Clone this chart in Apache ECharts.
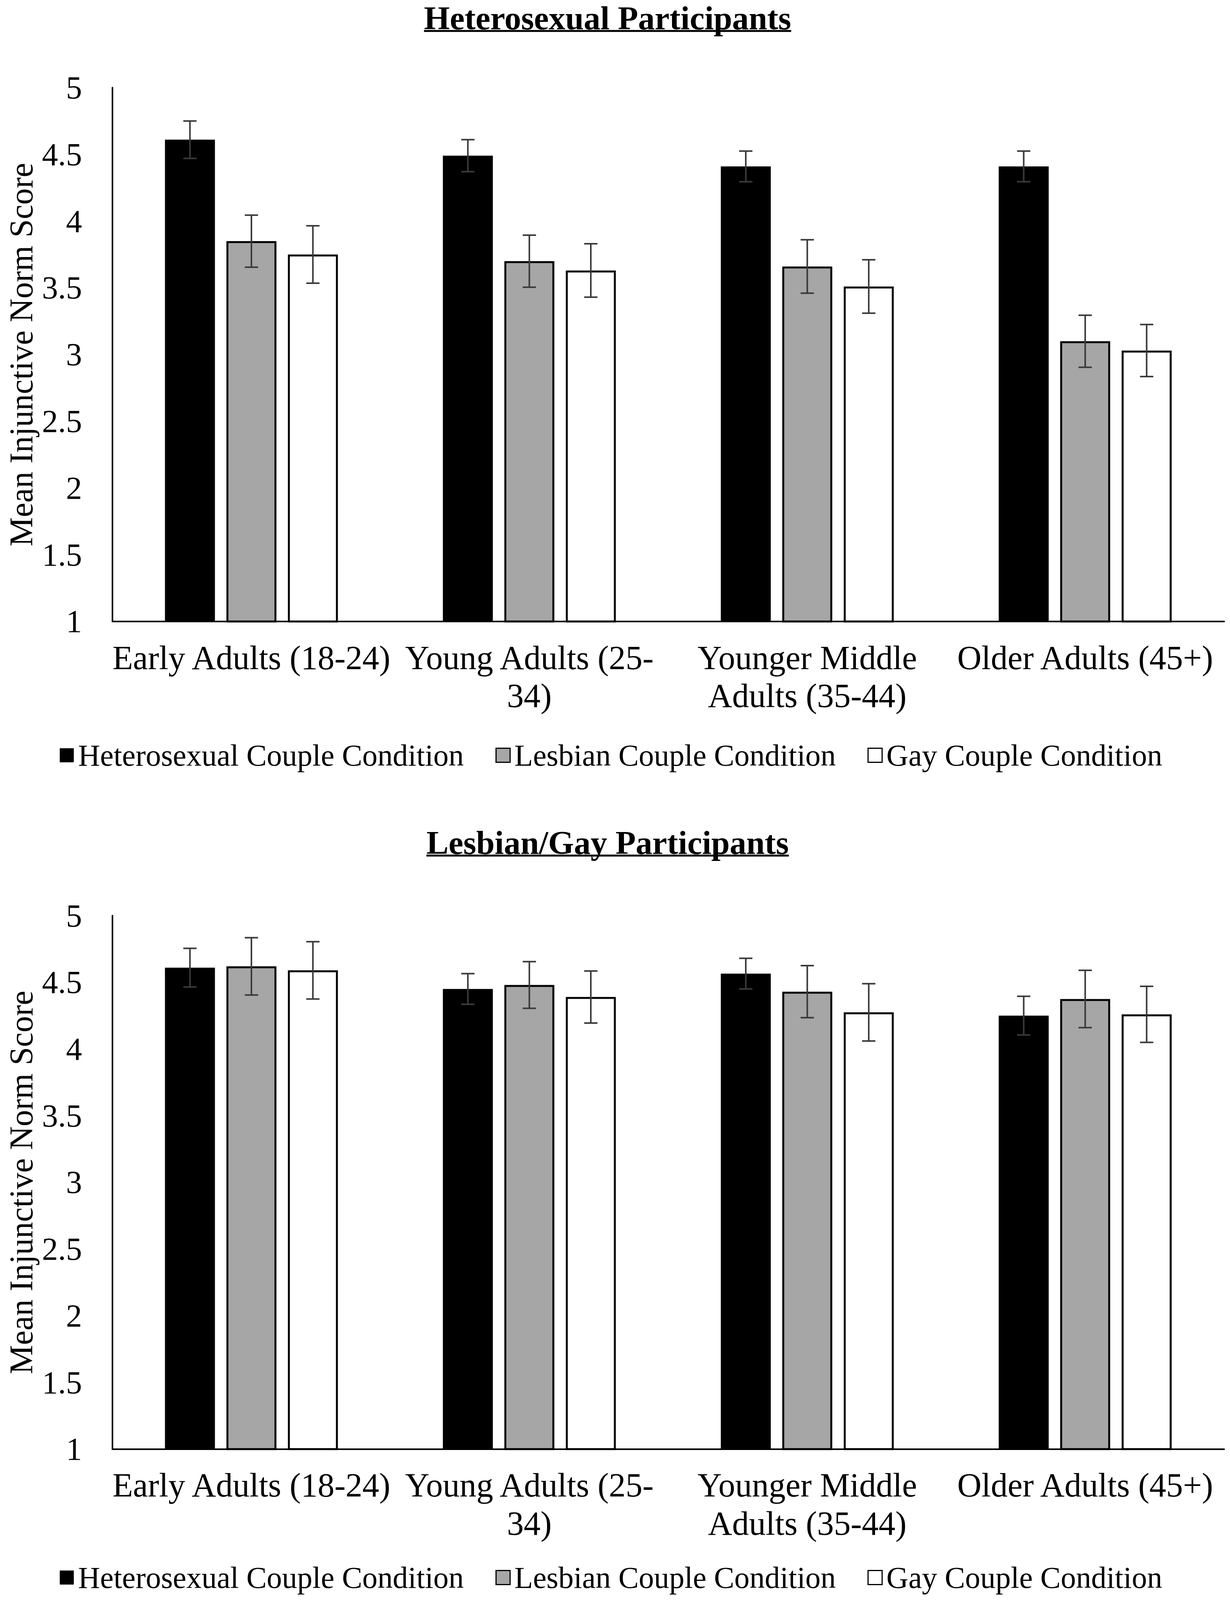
<!DOCTYPE html>
<html>
<head>
<meta charset="utf-8">
<script src="https://cdn.jsdelivr.net/npm/echarts@6/dist/echarts.min.js"></script>
<style>
html,body{margin:0;padding:0;background:#fff;overflow:hidden;}
#c{width:3150px;height:4199px;}
</style>
</head>
<body>
<div id="c"></div>
<script>
// ---------- data ----------
const categories = ['Early Adults (18-24)', 'Young Adults (25-34)', 'Younger Middle Adults (35-44)', 'Older Adults (45+)'];
const tickLabels = ['Early Adults (18-24)', 'Young Adults (25-\n34)', 'Younger Middle\nAdults (35-44)', 'Older Adults (45+)'];
const seriesNames = ['Heterosexual Couple Condition', 'Lesbian Couple Condition', 'Gay Couple Condition'];
const panelTitles = ['Heterosexual Participants', 'Lesbian/Gay Participants'];
const yAxisName = 'Mean Injunctive Norm Score';
const yMin = 1, yMax = 5, yStep = 0.5;

// Heterosexual participants
const hetPartHetCouple = [4.61, 4.49, 4.41, 4.41];
const hetPartLesCouple = [3.85, 3.70, 3.66, 3.10];
const hetPartGayCouple = [3.75, 3.63, 3.51, 3.03];
const hetPartHetCoupleErr = [0.14, 0.12, 0.115, 0.115];
const hetPartLesCoupleErr = [0.195, 0.195, 0.20, 0.195];
const hetPartGayCoupleErr = [0.215, 0.20, 0.20, 0.195];

// Lesbian/Gay participants
const lgPartHetCouple = [4.61, 4.45, 4.565, 4.25];
const lgPartLesCouple = [4.62, 4.48, 4.43, 4.375];
const lgPartGayCouple = [4.59, 4.39, 4.275, 4.26];
const lgPartHetCoupleErr = [0.145, 0.115, 0.115, 0.145];
const lgPartLesCoupleErr = [0.215, 0.175, 0.195, 0.215];
const lgPartGayCoupleErr = [0.215, 0.195, 0.215, 0.21];

// ---------- styling / layout ----------
const REF_W = 3150, REF_H = 4199;
const VIEW_W = window.innerWidth > 0 ? window.innerWidth : REF_W;
const VIEW_H = window.innerHeight > 0 ? window.innerHeight : REF_H;
const sy = VIEW_H / REF_H;          // vertical fit to the visible window
const sx = VIEW_W / REF_W;
const Y = v => v * sy;
const X = v => v * sx;

const FONT = '"Liberation Serif", "Times New Roman", serif';
const BAR_W = X(128), BAR_GAP = 0.23;
const fills = ['#000000', '#A6A6A6', '#FFFFFF'];
const panels = [
  { title: panelTitles[0], means: [hetPartHetCouple, hetPartLesCouple, hetPartGayCouple],
    errs: [hetPartHetCoupleErr, hetPartLesCoupleErr, hetPartGayCoupleErr],
    top: 230, height: 1401, titleY: 47, legendY: 1982 },
  { title: panelTitles[1], means: [lgPartHetCouple, lgPartLesCouple, lgPartGayCouple],
    errs: [lgPartHetCoupleErr, lgPartLesCoupleErr, lgPartGayCoupleErr],
    top: 2403, height: 1400, titleY: 2211, legendY: 4140 }
];
const GRID_LEFT = X(288), GRID_RIGHT_X = X(3135), TITLE_X = X(1556);
const LEGEND_FS = 78;

const el = document.getElementById('c');
el.style.width = VIEW_W + 'px';
el.style.height = VIEW_H + 'px';

function measure(txt) {
  const ctx = document.createElement('canvas').getContext('2d');
  ctx.font = 'bold 85px "Liberation Serif"';
  return ctx.measureText(txt).width;
}

function makeErr(i) {
  const off = (i - 1) * BAR_W * (1 + BAR_GAP);
  return function (params, api) {
    const c = api.value(0);
    const lo = api.coord([c, api.value(1)]);
    const hi = api.coord([c, api.value(2)]);
    const x = lo[0] + off;
    const st = { stroke: '#3a3a3a', lineWidth: 4 };
    return {
      type: 'group',
      children: [
        { type: 'line', shape: { x1: x, y1: hi[1], x2: x, y2: lo[1] }, style: st },
        { type: 'line', shape: { x1: x - 17, y1: hi[1], x2: x + 17, y2: hi[1] }, style: st },
        { type: 'line', shape: { x1: x - 17, y1: lo[1], x2: x + 17, y2: lo[1] }, style: st }
      ]
    };
  };
}

const series = [];
panels.forEach((p, k) => {
  p.means.forEach((vals, i) => {
    series.push({
      type: 'bar', name: seriesNames[i], xAxisIndex: k, yAxisIndex: k,
      data: vals, barWidth: BAR_W, barGap: (BAR_GAP * 100) + '%',
      itemStyle: { color: fills[i], borderColor: '#000', borderWidth: i === 0 ? 0 : 5 },
      emphasis: { disabled: true }, silent: true
    });
  });
  p.means.forEach((vals, i) => {
    series.push({
      type: 'custom', name: 'err-' + k + '-' + i, xAxisIndex: k, yAxisIndex: k, z: 10,
      data: vals.map((m, j) => [j, m - p.errs[i][j], m + p.errs[i][j]]),
      encode: { x: 0, y: [1, 2] }, renderItem: makeErr(i), silent: true
    });
  });
});

const graphic = [];
panels.forEach(p => {
  const w = measure(p.title);
  graphic.push({
    type: 'text', x: TITLE_X, y: Y(p.titleY),
    style: { text: p.title, fontSize: 85, fontWeight: 'bold', fontFamily: FONT, fill: '#000',
             lineHeight: 85, textAlign: 'center', textVerticalAlign: 'middle', align: 'center', verticalAlign: 'middle' }
  });
  graphic.push({
    type: 'rect', shape: { x: TITLE_X - w / 2, y: Y(p.titleY) + 31, width: w, height: 5 },
    style: { fill: '#000' }
  });
});

const option = {
  animation: false,
  backgroundColor: '#fff',
  graphic: graphic,
  grid: panels.map(p => ({ left: GRID_LEFT, top: Y(p.top), width: GRID_RIGHT_X - GRID_LEFT, height: Y(p.height), containLabel: false })),
  legend: panels.map(p => ({
    data: seriesNames.map((n, i) => ({ name: n, itemStyle: { borderColor: '#000', borderWidth: i === 0 ? 0 : 3 } })),
    left: X(153), top: Y(p.legendY) - LEGEND_FS / 2, padding: 0,
    itemWidth: 36, itemHeight: 36, itemGap: 81,
    icon: 'rect', selectedMode: false,
    textStyle: { fontFamily: FONT, fontSize: LEGEND_FS, lineHeight: LEGEND_FS, color: '#000', padding: [0, 0, 0, 6] }
  })),
  xAxis: panels.map((p, k) => ({
    type: 'category', gridIndex: k, data: tickLabels,
    axisLine: { lineStyle: { color: '#000', width: 4 } },
    axisTick: { show: false },
    axisLabel: { interval: 0, fontFamily: FONT, fontSize: 86, color: '#000', lineHeight: Y(100), margin: Y(45) }
  })),
  yAxis: panels.map((p, k) => ({
    type: 'value', gridIndex: k, min: yMin, max: yMax, interval: yStep,
    axisLine: { show: true, lineStyle: { color: '#000', width: 4 } },
    axisTick: { show: false }, splitLine: { show: false },
    axisLabel: { fontFamily: FONT, fontSize: 82, color: '#000', margin: X(78) },
    name: yAxisName, nameLocation: 'middle', nameGap: X(188),
    nameTextStyle: { fontFamily: FONT, fontSize: 84, color: '#000' }
  })),
  series: series
};

const chart = echarts.init(el, null, { renderer: 'svg', width: VIEW_W, height: VIEW_H });
chart.setOption(option);
</script>
</body>
</html>
